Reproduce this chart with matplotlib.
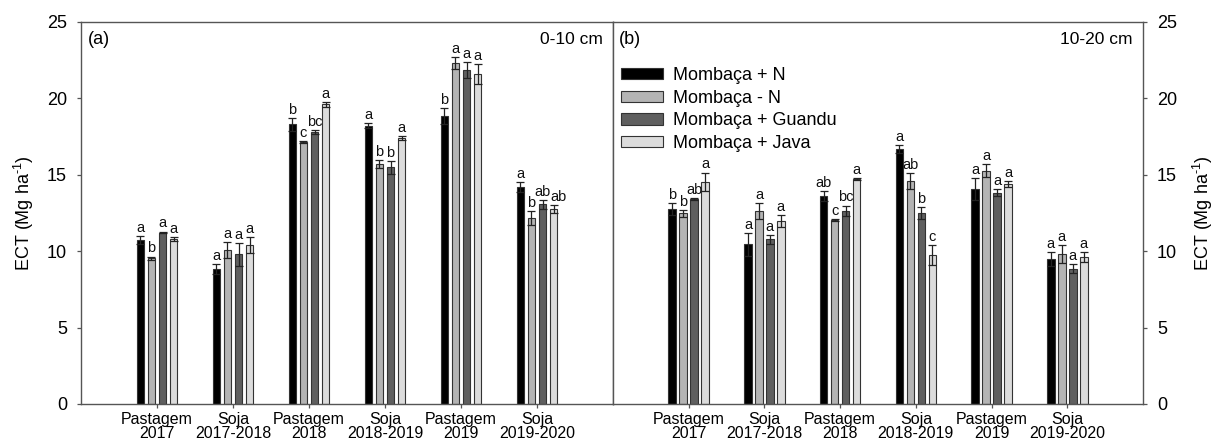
import matplotlib
matplotlib.use("Agg")
import matplotlib.pyplot as plt
import numpy as np

plt.rcParams['font.family'] = ['Liberation Sans', 'DejaVu Sans']
plt.rcParams['mathtext.fontset'] = 'custom'
plt.rcParams['mathtext.rm'] = 'Liberation Sans'
plt.rcParams['mathtext.it'] = 'Liberation Sans:italic'

categories = ['Pastagem\n2017', 'Soja\n2017-2018', 'Pastagem\n2018',
              'Soja\n2018-2019', 'Pastagem\n2019', 'Soja\n2019-2020']
series = ['Mombaça + N', 'Mombaça - N', 'Mombaça + Guandu', 'Mombaça + Java']
colors = ['#000000', '#b4b4b4', '#5f5f5f', '#dcdcdc']

# 0-10 cm
n_plus_010 = [10.73, 8.81, 18.30, 18.21, 18.85, 14.20]
n_minus_010 = [9.53, 10.08, 17.17, 15.70, 22.30, 12.15]
guandu_010 = [11.22, 9.80, 17.78, 15.49, 21.86, 13.07]
java_010 = [10.80, 10.40, 19.61, 17.43, 21.60, 12.76]
n_plus_010_err = [0.27, 0.33, 0.42, 0.16, 0.50, 0.35]
n_minus_010_err = [0.12, 0.50, 0.06, 0.27, 0.40, 0.45]
guandu_010_err = [0.06, 0.74, 0.12, 0.41, 0.54, 0.28]
java_010_err = [0.15, 0.53, 0.15, 0.13, 0.65, 0.24]
n_plus_010_let = ['a', 'a', 'b', 'a', 'b', 'a']
n_minus_010_let = ['b', 'a', 'c', 'b', 'a', 'b']
guandu_010_let = ['a', 'a', 'bc', 'b', 'a', 'ab']
java_010_let = ['a', 'a', 'a', 'a', 'a', 'ab']

# 10-20 cm
n_plus_1020 = [12.76, 10.45, 13.63, 16.69, 14.07, 9.49]
n_minus_1020 = [12.48, 12.63, 12.04, 14.60, 15.27, 9.82]
guandu_1020 = [13.42, 10.78, 12.65, 12.48, 13.83, 8.86]
java_1020 = [14.55, 12.00, 14.70, 9.75, 14.40, 9.60]
n_plus_1020_err = [0.37, 0.75, 0.33, 0.26, 0.70, 0.44]
n_minus_1020_err = [0.22, 0.50, 0.05, 0.50, 0.42, 0.58]
guandu_1020_err = [0.05, 0.28, 0.33, 0.39, 0.22, 0.28]
java_1020_err = [0.59, 0.39, 0.06, 0.65, 0.20, 0.33]
n_plus_1020_let = ['b', 'a', 'ab', 'a', 'a', 'a']
n_minus_1020_let = ['b', 'a', 'c', 'ab', 'a', 'a']
guandu_1020_let = ['ab', 'a', 'bc', 'b', 'a', 'a']
java_1020_let = ['a', 'a', 'a', 'c', 'a', 'a']

yticks = [0, 5, 10, 15, 20, 25]

panels = [
    dict(vals=[n_plus_010, n_minus_010, guandu_010, java_010],
         errs=[n_plus_010_err, n_minus_010_err, guandu_010_err, java_010_err],
         lets=[n_plus_010_let, n_minus_010_let, guandu_010_let, java_010_let],
         tag='(a)', depth='0-10 cm'),
    dict(vals=[n_plus_1020, n_minus_1020, guandu_1020, java_1020],
         errs=[n_plus_1020_err, n_minus_1020_err, guandu_1020_err, java_1020_err],
         lets=[n_plus_1020_let, n_minus_1020_let, guandu_1020_let, java_1020_let],
         tag='(b)', depth='10-20 cm'),
]

W, H = 1216, 443
fig = plt.figure(figsize=(W / 100, H / 100), dpi=100)
ax1 = fig.add_axes([81 / W, 39 / H, 532 / W, 382 / H])
ax2 = fig.add_axes([613 / W, 39 / H, 530 / W, 382 / H])

spine_col = '#555555'
x = np.arange(1, len(categories) + 1)
step = 0.145
bw = 0.10

for ax, p, side in [(ax1, panels[0], 'left'), (ax2, panels[1], 'right')]:
    handles = []
    for i in range(4):
        xs = x + (i - 1.5) * step
        b = ax.bar(xs, p['vals'][i], width=bw, color=colors[i],
                   edgecolor='#333333', linewidth=0.8, label=series[i], zorder=2)
        handles.append(b)
        ax.errorbar(xs, p['vals'][i], yerr=p['errs'][i], fmt='none',
                    ecolor='#222222', elinewidth=0.9, capsize=3, capthick=0.9, zorder=3)
        for j, (xi, v, e, t) in enumerate(zip(xs, p['vals'][i], p['errs'][i], p['lets'][i])):
            dx = 0
            if i > 0 and len(t) > 1 and len(p['lets'][i - 1][j]) > 1:
                dx = 3.5  # nudge right so adjacent two-letter labels do not collide
            ax.annotate(t, (xi, v + e), xytext=(dx, 3), textcoords='offset points',
                        ha='center', va='baseline', fontsize=10.5, color='#111111')
    ax.set_xlim(0, 7)
    ax.set_ylim(0, 25)
    ax.set_xticks(x)
    ax.set_xticklabels(categories, fontsize=11.5, linespacing=0.92)
    ax.set_yticks(yticks)
    for s in ax.spines.values():
        s.set_color(spine_col)
        s.set_linewidth(1.0)
    ax.tick_params(axis='x', direction='out', length=3, width=0.9, color=spine_col, pad=2.5)
    ax.text(0.012, 0.955, p['tag'], transform=ax.transAxes, fontsize=13,
            ha='left', va='center')
    ax.text(0.981, 0.955, p['depth'], transform=ax.transAxes, fontsize=12.5,
            ha='right', va='center')
    if side == 'left':
        ax.tick_params(axis='y', direction='out', length=3, width=0.9, color=spine_col,
                       labelsize=13, pad=7)
        ax.set_ylabel(r'ECT (Mg ha$^{\text{-1}}$)', fontsize=13, labelpad=8)
    else:
        ax.yaxis.tick_right()
        ax.yaxis.set_label_position('right')
        ax.tick_params(axis='y', direction='out', length=3, width=0.9, color=spine_col,
                       labelsize=13, pad=7)
        ax.set_ylabel(r'ECT (Mg ha$^{\text{-1}}$)', fontsize=13, labelpad=10)
        ax.legend(handles=handles, labels=series, loc='upper left',
                  bbox_to_anchor=(-0.008, 0.915), frameon=False, fontsize=13,
                  handlelength=2.3, handleheight=0.6, labelspacing=0.31,
                  handletextpad=0.55, borderaxespad=0.3)

fig.savefig('out.png', dpi=100)
